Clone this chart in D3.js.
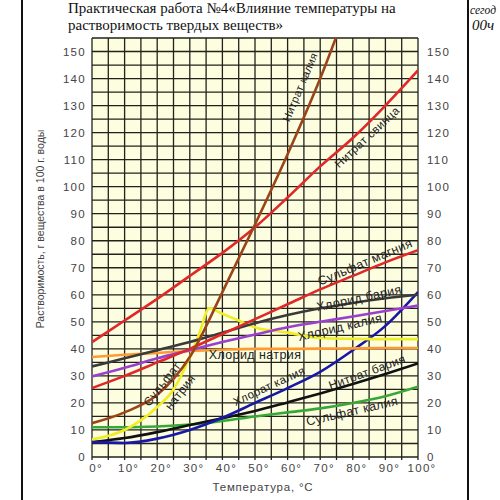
<!DOCTYPE html>
<html><head><meta charset="utf-8">
<script src="https://cdn.jsdelivr.net/npm/d3@7"></script>
<style>body{margin:0;background:#fff}svg{display:block}</style>
</head><body><svg id="c" width="500" height="500"></svg>
<script>
const temps = [0,10,20,30,40,50,60,70,80,90,100];
const kno3Temps = [0,10,20,30,40,50,60,70,80];
const kno3 = [12.5,16.5,23,37,61,86,112,140,172];          // Нитрат калия
const pbno3 = [42.5,50.5,58.5,67,75.5,85,96,107.5,118,130,143]; // Нитрат свинца
const mgso4 = [25.5,30,35,40,45.5,51,56.5,62,67,72,76.5];  // Сульфат магния
const bacl2 = [33.5,36.5,39.5,42.5,46,49.5,52.5,55,57,58.7,60]; // Хлорид бария
const kcl = [29.8,33,36.5,39.5,42.5,45.3,48,50,52,54,56];  // Хлорид калия
const nacl = [37,37.8,38.5,39.2,39.7,40,40,40.1,40.2,40.3,40.3]; // Хлорид натрия
const na2so4Temps = [0,10,20,25,30,33,36,40,45,50,60,70,80,90,100];
const na2so4 = [6.5,10,18.5,25,37,46,55,53,50.5,48,46,44,43.7,43.6,43.6]; // Сульфат натрия
const kclo3 = [5.5,5.2,6.8,10,14.5,20,25.5,31.5,39.5,48.5,61]; // Хлорат калия
const bano3 = [5.5,7,9.2,11.8,14.3,17,20.2,23.5,27,30.7,34.6]; // Нитрат бария
const k2so4 = [11,11,11.3,12,13.3,15,16.5,18,20,22.5,26];   // Сульфат калия
const yTicks = [0,10,20,30,40,50,60,70,80,90,100,110,120,130,140,150];
const xTicks = [0,10,20,30,40,50,60,70,80,90,100];

const svg = d3.select("#c");
const x = d3.scaleLinear([0,100],[92,418]);
const y = d3.scaleLinear([0,155],[457,38]);

// page borders & header text
svg.append("line").attr("x1",22).attr("x2",22).attr("y1",0).attr("y2",500).attr("stroke","#111").attr("stroke-width",2);
svg.append("line").attr("x1",468).attr("x2",468).attr("y1",0).attr("y2",500).attr("stroke","#111").attr("stroke-width",2);
const serif = "'Liberation Serif','Times New Roman',serif";
svg.append("text").attr("x",68).attr("y",13).attr("font-family",serif).attr("font-size",15).attr("fill","#111")
  .text("Практическая работа №4«Влияние температуры на");
svg.append("text").attr("x",68).attr("y",30).attr("font-family",serif).attr("font-size",15).attr("fill","#111")
  .text("растворимость твердых веществ»");
svg.append("text").attr("x",470).attr("y",14).attr("font-family",serif).attr("font-style","italic").attr("font-size",13)
  .attr("textLength",26).attr("lengthAdjust","spacingAndGlyphs").attr("fill","#111").text("сегод");
svg.append("text").attr("x",472).attr("y",30).attr("font-family",serif).attr("font-style","italic").attr("font-size",15).attr("fill","#111").text("00ч");

// plot background and grid
svg.append("rect").attr("x",x(0)).attr("y",y(155)).attr("width",x(100)-x(0)).attr("height",y(0)-y(155)).attr("fill","#fdfde0");
const g = svg.append("g");
g.selectAll("line.v").data(d3.range(0,101,5)).join("line")
  .attr("x1",d=>x(d)).attr("x2",d=>x(d)).attr("y1",y(155)).attr("y2",y(0)+3)
  .attr("stroke","#22221a").attr("stroke-width",1.3);
g.selectAll("line.h").data(d3.range(0,156,5)).join("line")
  .attr("x1",x(0)).attr("x2",x(100)).attr("y1",d=>y(d)).attr("y2",d=>y(d))
  .attr("stroke","#22221a").attr("stroke-width",1.3);

const sans = "'Liberation Sans',Arial,sans-serif";
svg.append("g").selectAll("text").data(yTicks).join("text")
  .attr("x",86).attr("y",d=>y(d)).attr("dy","0.35em").attr("text-anchor","end")
  .attr("font-family",sans).attr("font-size",11.5).attr("letter-spacing",1.3).attr("fill","#444").text(d=>d);
svg.append("g").selectAll("text").data(yTicks).join("text")
  .attr("x",427).attr("y",d=>y(d)).attr("dy","0.35em")
  .attr("font-family",sans).attr("font-size",11.5).attr("letter-spacing",1.3).attr("fill","#444").text(d=>d);
svg.append("g").selectAll("text").data(xTicks).join("text")
  .attr("x",d=>x(d)+4).attr("y",472).attr("text-anchor","middle")
  .attr("font-family",sans).attr("font-size",11.5).attr("letter-spacing",1.3).attr("fill","#444").text(d=>d+"°");
svg.append("text").attr("x",263).attr("y",491).attr("text-anchor","middle")
  .attr("font-family",sans).attr("font-size",11.5).attr("letter-spacing",0.8).attr("fill","#444").text("Температура, °C");
svg.append("text").attr("transform","translate(44,229) rotate(-90)").attr("text-anchor","middle")
  .attr("font-family",sans).attr("font-size",10.5).attr("fill","#444").text("Растворимость, г вещества в 100 г. воды");

// curves
svg.append("clipPath").attr("id","pc").append("rect").attr("x",x(0)).attr("y",y(155)).attr("width",x(100)-x(0)).attr("height",y(0)-y(155));
const series = [
  {t:temps, v:k2so4, c:"#35a835"},
  {t:temps, v:bano3, c:"#111111"},
  {t:temps, v:kclo3, c:"#1818a8"},
  {t:temps, v:nacl, c:"#ff9a33"},
  {t:na2so4Temps, v:na2so4, c:"#eeee22"},
  {t:temps, v:kcl, c:"#9a40d0"},
  {t:temps, v:bacl2, c:"#3a3a3a"},
  {t:temps, v:mgso4, c:"#e02828"},
  {t:temps, v:pbno3, c:"#e02828"},
  {t:kno3Temps, v:kno3, c:"#9a4418"}
];
const line = d3.line().x(d=>x(d[0])).y(d=>y(d[1])).curve(d3.curveMonotoneX);
svg.append("g").attr("clip-path","url(#pc)").selectAll("path").data(series).join("path")
  .attr("d",s=>line(s.t.map((t,i)=>[t,s.v[i]])))
  .attr("fill","none").attr("stroke",s=>s.c).attr("stroke-width",2.6);

// curve labels
const labels = [
  {s:"Нитрат калия", x:300, y:87, a:-67, f:11},
  {s:"Нитрат свинца", x:367, y:137, a:-43, f:11.5},
  {s:"Сульфат магния", x:365, y:262, a:-23, f:12.5},
  {s:"Хлорид бария", x:359, y:298, a:-12, f:12.5},
  {s:"Хлорид калия", x:340, y:327, a:-13, f:12.5},
  {s:"Хлорид натрия", x:255, y:355, a:0, f:12.5},
  {s:"Сульфат", x:162, y:384, a:-52, f:12},
  {s:"натрия", x:180, y:392, a:-52, f:12},
  {s:"Хлорат калия", x:269, y:386, a:-25, f:11.5},
  {s:"Нитрат бария", x:367, y:372, a:-20, f:12},
  {s:"Сульфат калия", x:352, y:411, a:-13, f:12.5}
];
svg.append("g").selectAll("text").data(labels).join("text")
  .attr("transform",d=>`translate(${d.x},${d.y}) rotate(${d.a})`).attr("text-anchor","middle").attr("dy","0.35em")
  .attr("font-family",sans).attr("font-size",d=>d.f).attr("letter-spacing",0.4).attr("fill","#222").text(d=>d.s);
</script></body></html>
